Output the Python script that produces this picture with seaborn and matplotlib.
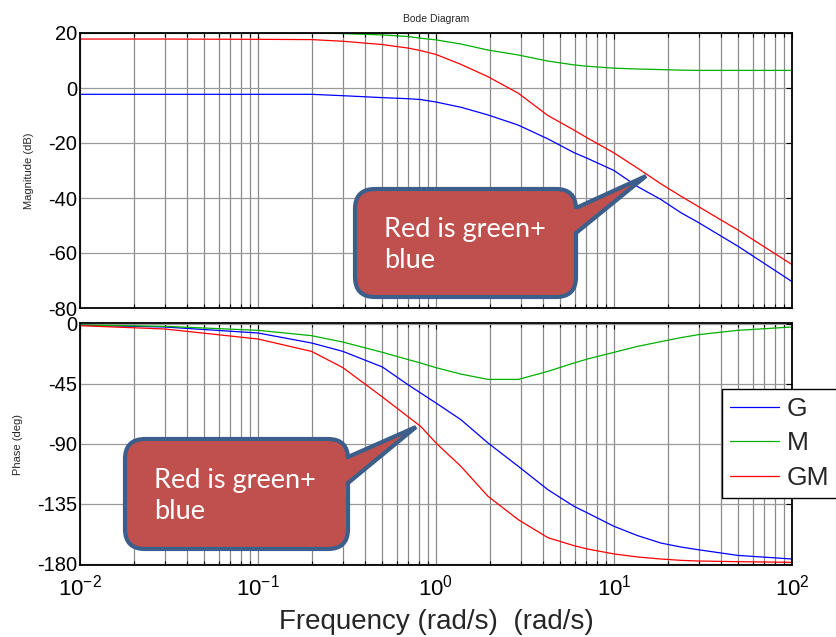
#%% Bode diagram of G, M and GM
import numpy as np
import pandas as pd
import matplotlib
matplotlib.use('Agg')
import matplotlib.pyplot as plt
import seaborn as sns
from matplotlib.path import Path
from matplotlib.patches import PathPatch

#%% values
freq = [0.01, 0.03, 0.1, 0.2, 0.3, 0.5, 0.7, 0.82, 1, 1.38, 1.96, 2.9, 4.25,
        5.96, 7.1, 10, 13.6, 18.3, 23.7, 29.6, 49.6, 100]

mag_G  = [-2.3, -2.3, -2.3, -2.3, -2.8, -3.5, -3.9, -4.2, -5.1, -7.0, -9.8, -13.5, -18.5,
          -23.5, -25.6, -30.0, -35.9, -40.5, -45.3, -48.8, -57.5, -70.4]
mag_M  = [20, 20, 20, 20, 19.8, 19.3, 18.7, 18.1, 17.5, 16.0, 13.8, 12.0, 9.8,
          8.4, 7.9, 7.2, 6.9, 6.7, 6.5, 6.4, 6.4, 6.4]
mag_GM = [17.8, 17.8, 17.7, 17.6, 17.0, 15.8, 14.5, 13.6, 12.2, 8.6, 4.1, -1.9, -10.0,
          -15.3, -18.2, -23.6, -29.2, -34.8, -39.3, -43.0, -51.6, -64.2]

ph_G  = [-1.2, -2.5, -7, -14.5, -20.8, -32.5, -46, -52, -59.5, -72, -89.5, -107, -124.5,
         -137, -142, -152, -159, -164.5, -167.5, -169.5, -173.8, -176.5]
ph_M  = [-1, -2, -5, -9, -13.8, -21.5, -27, -29.5, -33, -37.8, -41.8, -41.8, -35.8,
         -29.5, -26.5, -21.5, -17, -13.5, -10.5, -8.3, -5, -2.5]
ph_GM = [-1.5, -4, -11.5, -20.8, -33, -55, -70, -77, -89.5, -107, -129.5, -147, -160.5,
         -166.5, -169, -172.7, -175, -176.5, -177.5, -178, -178.5, -179]

systems = ['G', 'M', 'GM']
colors  = ['#0000ff', '#00b000', '#ff0000']

mag_ticks   = [-80, -60, -40, -20, 0, 20]
phase_ticks = [-180, -135, -90, -45, 0]

callout_text = 'Red is green+\nblue'

#%% long format table for seaborn
n = len(freq)
df = pd.DataFrame({'freq': freq * 3,
                   'mag': mag_G + mag_M + mag_GM,
                   'phase': ph_G + ph_M + ph_GM,
                   'sys': [s for s in systems for _ in range(n)]})

sns.set_style('white')
plt.rcParams['font.family'] = ['Liberation Sans', 'DejaVu Sans']
plt.rcParams['mathtext.fontset'] = 'custom'
plt.rcParams['mathtext.rm'] = 'Liberation Sans'
plt.rcParams['mathtext.default'] = 'regular'
plt.rcParams['axes.unicode_minus'] = False

W, H = 837, 637
fig = plt.figure(figsize=(W/100, H/100), dpi=100)
ax1 = fig.add_axes([80/W, 1-308/H, 712/W, 275/H])
ax2 = fig.add_axes([80/W, 1-565/H, 712/W, 242/H], sharex=ax1)

sns.lineplot(data=df, x='freq', y='mag', hue='sys', palette=colors, estimator=None,
             linewidth=0.9, ax=ax1, legend=False)
sns.lineplot(data=df, x='freq', y='phase', hue='sys', palette=colors, estimator=None,
             linewidth=0.9, ax=ax2)

for ax in [ax1, ax2]:
    ax.set_xscale('log')
    ax.set_xlim(0.01, 100)
    ax.grid(True, which='both', axis='x', color='#8a8a8a', linewidth=0.9)
    ax.grid(True, which='major', axis='y', color='#9a9a9a', linewidth=0.9)
    ax.tick_params(which='both', direction='in', top=True, right=True, colors='k',
                   labelsize=14.5, pad=2)
    ax.tick_params(which='major', length=4, width=0.8)
    ax.tick_params(which='minor', length=3, width=0.8, bottom=True)
    for sp in ax.spines.values():
        sp.set_color('k')
        sp.set_linewidth(1.3)

ax1.set_ylim(-80, 20)
ax1.set_yticks(mag_ticks)
ax1.tick_params(labelbottom=False)
ax1.set_xlabel('')
ax1.set_ylabel('Magnitude (dB)', fontsize=8, va='center')
ax1.yaxis.set_label_coords(-0.0716, 0.5)
ax1.set_title('Bode Diagram', fontsize=7.5, pad=8)

ax2.set_ylim(-181, 0.5)
ax2.set_yticks(phase_ticks)
ax2.tick_params(axis='x', which='major', pad=7, labelsize=16)
ax2.set_ylabel('Phase (deg)', fontsize=8, va='center')
ax2.yaxis.set_label_coords(-0.087, 0.5)
ax2.set_xlabel('Frequency (rad/s)  (rad/s)', fontsize=20, va='center')
ax2.xaxis.set_label_coords(0.5, (565-622)/242)

sns.move_legend(ax2, 'upper left', bbox_to_anchor=(722/W, 1-389/H),
                bbox_transform=fig.transFigure, title=None, fontsize=19,
                frameon=True, fancybox=False, framealpha=1, edgecolor='k',
                borderaxespad=0, borderpad=0.3, handlelength=1.85,
                handletextpad=0.3, labelspacing=0.4)
ax2.get_legend().get_frame().set_linewidth(1.0)

#%% callouts (pixel layout, converted to figure fraction)
def callout(L, T, R, B, base1, base2, tip, r=20):
    pts = [(L+r, T), (R-r, T), (R, T), (R, T+r), (R, base1), tip, (R, base2),
           (R, B-r), (R, B), (R-r, B), (L+r, B), (L, B), (L, B-r), (L, T+r),
           (L, T), (L+r, T), (L+r, T)]
    codes = [Path.MOVETO, Path.LINETO, Path.CURVE3, Path.CURVE3, Path.LINETO,
             Path.LINETO, Path.LINETO, Path.LINETO, Path.CURVE3, Path.CURVE3,
             Path.LINETO, Path.CURVE3, Path.CURVE3, Path.LINETO, Path.CURVE3,
             Path.CURVE3, Path.CLOSEPOLY]
    verts = [(x/W, 1-y/H) for x, y in pts]
    patch = PathPatch(Path(verts, codes), facecolor='#c0504d', edgecolor='#3b5e8a',
                      linewidth=3, transform=fig.transFigure, zorder=10)
    fig.patches.append(patch)

callout(355, 189, 576, 297, 208, 233, (646, 176))
callout(125, 439, 348, 549, 457, 483, (416, 427))

fig.text(384/W, 1-245/H, callout_text, color='white', fontsize=19.5, family='Lato',
         va='center', ha='left', linespacing=1.3, zorder=11)
fig.text(154/W, 1-496/H, callout_text, color='white', fontsize=19.5, family='Lato',
         va='center', ha='left', linespacing=1.3, zorder=11)

fig.savefig('out.png', dpi=100)
